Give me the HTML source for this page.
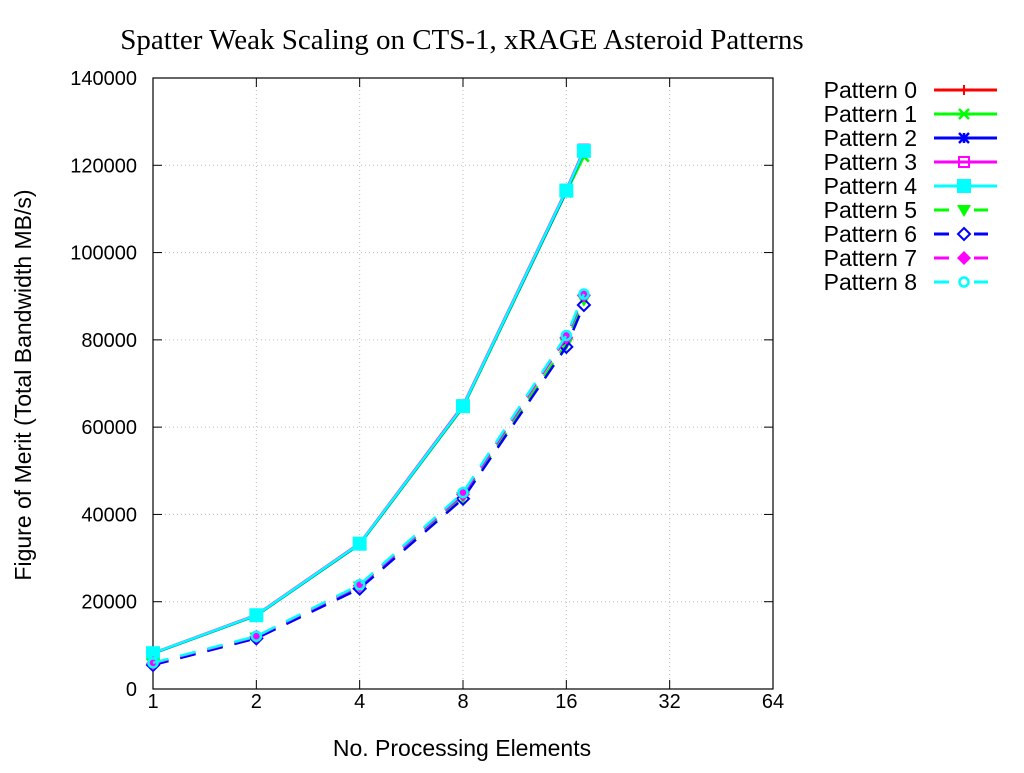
<!DOCTYPE html>
<html><head><meta charset="utf-8"><style>
body{margin:0;background:#fff;}
svg text{font-family:"Liberation Sans",sans-serif;}
</style></head><body>
<svg id="chart" width="1024" height="768" xmlns="http://www.w3.org/2000/svg">
<text x="462" y="49" text-anchor="middle" font-size="29" style="font-family:'Liberation Serif',serif">Spatter Weak Scaling on CTS-1, xRAGE Asteroid Patterns</text>
<g id="grid"></g>
<g id="axes"></g>
<g id="series"></g>
<g id="legend"></g>
<text x="462" y="756" text-anchor="middle" font-size="23">No. Processing Elements</text>
<text transform="translate(31,385) rotate(-90)" text-anchor="middle" font-size="23">Figure of Merit (Total Bandwidth MB/s)</text>
</svg>
<script>
const xValues=[1,2,4,8,16,18];
const xTicks=[1,2,4,8,16,32,64];
const yTicks=[0,20000,40000,60000,80000,100000,120000,140000];
const seriesNames=["Pattern 0","Pattern 1","Pattern 2","Pattern 3","Pattern 4","Pattern 5","Pattern 6","Pattern 7","Pattern 8"];
const p0=[8200,16900,33300,64800,114200,123400];
const p1=[8100,16800,33100,64500,113800,122000];
const p2=[8150,16850,33200,64700,114000,123200];
const p3=[8250,17000,33400,65000,114400,123600];
const p4=[8200,16900,33300,64800,114200,123300];
const p5=[5800,11800,23500,44000,79200,89200];
const p6=[5500,11600,23000,43600,78400,88000];
const p7=[5900,12000,23700,44600,80500,90200];
const p8=[6000,12100,23900,45000,81000,90500];
const allSeries=[p0,p1,p2,p3,p4,p5,p6,p7,p8];
const colors=["#ff0000","#00ff00","#0000ff","#ff00ff","#00ffff","#00ff00","#0000ff","#ff00ff","#00ffff"];
const dashed=[false,false,false,false,false,true,true,true,true];
const markers=["plus","cross","star","osq","sq","tri","odia","dia","ocirc"];
const L=153,R=773,T=78,B=689;
const xs=v=>L+(Math.log2(v)-0)/6*(R-L);
const ys=v=>B-v/140000*(B-T);
const NS="http://www.w3.org/2000/svg";
function mk(tag,attrs,parent){const e=document.createElementNS(NS,tag);for(const k in attrs)e.setAttribute(k,attrs[k]);parent.appendChild(e);return e;}
const grid=document.getElementById('grid'),axes=document.getElementById('axes'),ser=document.getElementById('series'),leg=document.getElementById('legend');
xTicks.forEach(t=>{const x=xs(t);
 if(t>1&&t<64){const g=mk('line',{x1:x,x2:x,y1:T,y2:B,stroke:'#bbb','stroke-dasharray':'1,3'},grid);
 
 }
 mk('line',{x1:x,x2:x,y1:B,y2:B-9,stroke:'#000'},axes);mk('line',{x1:x,x2:x,y1:T,y2:T+9,stroke:'#000'},axes);
 const tx=mk('text',{x:x,y:B+19,'text-anchor':'middle','font-size':20},axes);tx.textContent=t;
 
 });
yTicks.forEach(t=>{const y=ys(t);
 if(t>0&&t<140000){const g=mk('line',{x1:L,x2:R,y1:y,y2:y,stroke:'#bbb','stroke-dasharray':'1,3'},grid);
 
 }
 mk('line',{x1:L,x2:L+9,y1:y,y2:y,stroke:'#000'},axes);mk('line',{x1:R,x2:R-9,y1:y,y2:y,stroke:'#000'},axes);
 const tx=mk('text',{x:L-16,y:y+7,'text-anchor':'end','font-size':20},axes);tx.textContent=t;
 
 });
mk('rect',{x:L,y:T,width:R-L,height:B-T,fill:'none',stroke:'#000','stroke-width':1.2},axes);
function marker(type,x,y,c,parent){
 const s=5;
 if(type==='plus'){mk('path',{d:`M${x-s} ${y}H${x+s}M${x} ${y-s}V${y+s}`,stroke:c,'stroke-width':2},parent);}
 else if(type==='cross'){mk('path',{d:`M${x-s} ${y-s}L${x+s} ${y+s}M${x-s} ${y+s}L${x+s} ${y-s}`,stroke:c,'stroke-width':2.5},parent);}
 else if(type==='star'){mk('path',{d:`M${x-s} ${y-s}L${x+s} ${y+s}M${x-s} ${y+s}L${x+s} ${y-s}M${x-s} ${y}H${x+s}M${x} ${y-s}V${y+s}`,stroke:c,'stroke-width':2.5},parent);}
 else if(type==='osq'){mk('rect',{x:x-s,y:y-s,width:2*s,height:2*s,fill:'none',stroke:c,'stroke-width':2},parent);}
 else if(type==='sq'){mk('rect',{x:x-7,y:y-7,width:14,height:14,fill:c},parent);}
 else if(type==='tri'){mk('path',{d:`M${x-7} ${y-5}L${x+7} ${y-5}L${x} ${y+7}Z`,fill:c},parent);}
 else if(type==='odia'){mk('path',{d:`M${x} ${y-6}L${x+6} ${y}L${x} ${y+6}L${x-6} ${y}Z`,fill:'none',stroke:c,'stroke-width':2},parent);}
 else if(type==='dia'){mk('path',{d:`M${x} ${y-7}L${x+7} ${y}L${x} ${y+7}L${x-7} ${y}Z`,fill:c},parent);}
 else if(type==='ocirc'){mk('circle',{cx:x,cy:y,r:4.5,fill:'none',stroke:c,'stroke-width':2.5},parent);}
}
allSeries.forEach((vals,i)=>{
 const g=mk('g',{},ser);
 
 
 const d=vals.map((v,j)=>(j?'L':'M')+xs(xValues[j]).toFixed(1)+' '+ys(v).toFixed(1)).join('');
 mk('path',{d:d,fill:'none',stroke:colors[i],'stroke-width':2.5,'stroke-dasharray':dashed[i]?'16,12':'none'},g);
 vals.forEach((v,j)=>marker(markers[i],xs(xValues[j]),ys(v),colors[i],g));
 const ly=90+i*24;
 const le=mk('g',{},leg);
 
 
 const t=mk('text',{x:917,y:ly+8,'text-anchor':'end','font-size':23},le);t.textContent=seriesNames[i];
 if(dashed[i]){mk('path',{d:`M934 ${ly}H949M974 ${ly}H988`,stroke:colors[i],'stroke-width':3},le);}
 else mk('line',{x1:934,x2:997,y1:ly,y2:ly,stroke:colors[i],'stroke-width':3},le);
 marker(markers[i],964,ly,colors[i],le);
});
</script>
</body></html>
